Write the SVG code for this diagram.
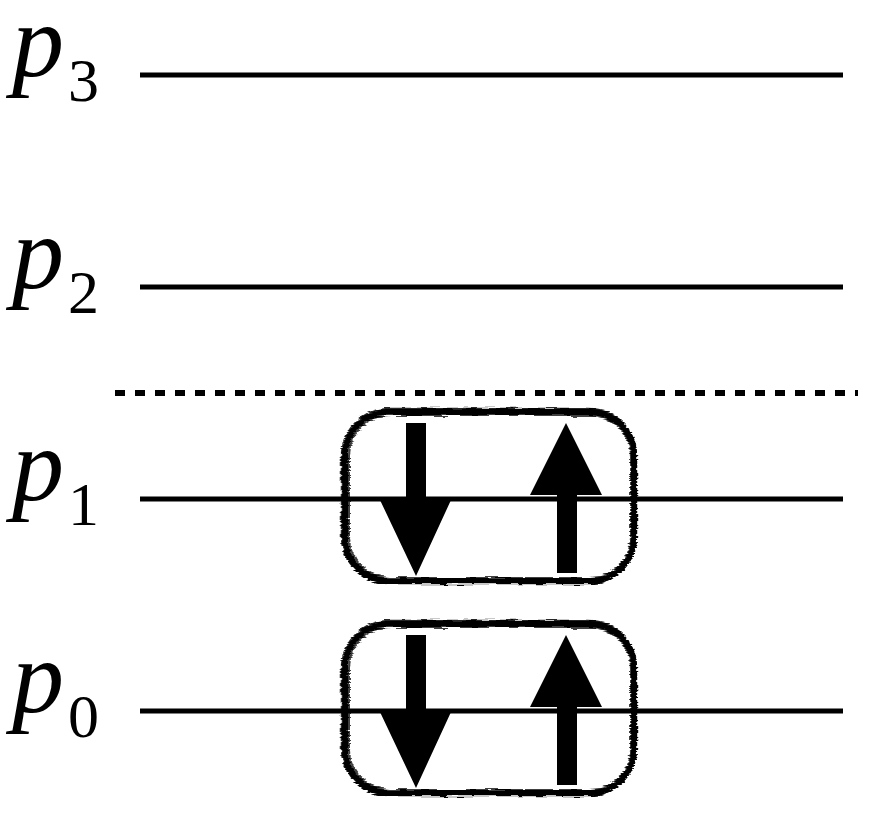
<svg xmlns="http://www.w3.org/2000/svg" width="872" height="826" viewBox="0 0 872 826">
<style>
.lvl{stroke:#000;stroke-width:5;fill:none}
.dash{stroke:#000;stroke-width:6;stroke-dasharray:10 10;fill:none}
.p{font-family:"Liberation Serif","Times New Roman",serif;font-style:italic;font-size:104px;fill:#000}
.s{font-family:"Liberation Serif","Times New Roman",serif;font-size:62px;fill:#000}
.box{fill:none;stroke:#000}
.arr{fill:#000}
</style>
<defs>
<filter id="rough" x="-10%" y="-10%" width="120%" height="120%">
<feTurbulence type="fractalNoise" baseFrequency="0.06 0.6" numOctaves="2" seed="3" result="n"/>
<feDisplacementMap in="SourceGraphic" in2="n" scale="5" xChannelSelector="R" yChannelSelector="G"/>
</filter>
<g id="pair">
<g filter="url(#rough)">
<rect class="box" x="345" y="412" width="289" height="169" rx="44" stroke-width="6"/>
<rect class="box" x="342" y="409" width="294" height="174" rx="47" stroke-width="2.5" stroke-opacity="0.85"/>
<rect class="box" x="349" y="415" width="282" height="163" rx="41" stroke-width="2" stroke-opacity="0.75"/>
</g>
<path class="arr" d="M406,423 H426 V500 H451 L416,576 L380,500 H406 Z"/>
<path class="arr" d="M557,573 V495 H530 L566,423 L602,495 H577 V573 Z"/>
</g>
</defs>
<g id="connectors">
<line class="lvl" x1="140" y1="75" x2="843" y2="75"/>
<line class="lvl" x1="140" y1="287" x2="843" y2="287"/>
<line class="lvl" x1="140" y1="499" x2="843" y2="499"/>
<line class="lvl" x1="140" y1="711" x2="843" y2="711"/>
<line class="dash" x1="115" y1="393" x2="858" y2="393"/>
</g>
<g id="label-p3"><text class="p" x="12" y="76">p</text><text class="s" x="68" y="101">3</text></g>
<g id="label-p2"><text class="p" x="12" y="288">p</text><text class="s" x="68" y="313">2</text></g>
<g id="label-p1"><text class="p" x="12" y="500">p</text><text class="s" x="68" y="525">1</text></g>
<g id="label-p0"><text class="p" x="12" y="712">p</text><text class="s" x="68" y="737">0</text></g>
<g id="pair-p1"><use href="#pair"/></g>
<g id="pair-p0"><use href="#pair" y="212"/></g>
</svg>
